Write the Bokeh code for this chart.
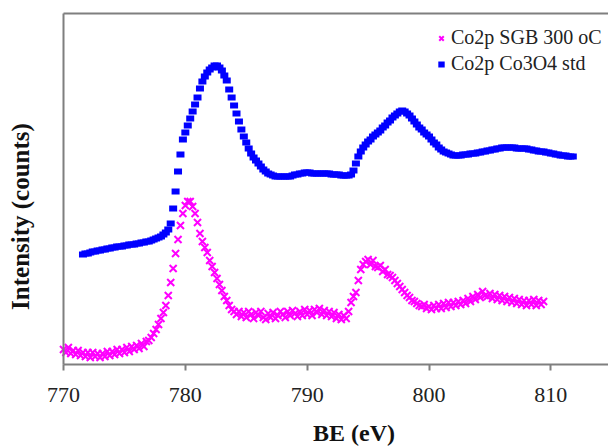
import math
import numpy as np
from bokeh.plotting import figure
from bokeh.models import (Range1d, FixedTicker, LinearAxis, Label, Legend,
                          LegendItem)
from bokeh.embed import file_html
from bokeh.resources import INLINE

# ---------------- data ----------------
# Co2p Co3O4 std (blue), sampled every 0.2 eV from 771.6 eV
blue_start = 771.6
blue_step = 0.2
blue_y = [
    110, 111,                               # 771.6-771.8
    111, 112, 113, 113, 114,                # 772
    114, 115, 115, 116, 116,                # 773
    117, 117, 118, 118, 118,                # 774
    119, 119, 120, 120, 120,                # 775
    121, 121, 122, 122, 123,                # 776
    123, 124, 125, 126, 127,                # 777
    128, 130, 132, 135, 141,                # 778
    156, 173, 193, 210, 225,                # 779
    232, 239, 246, 253, 260,                # 780
    267, 276, 283, 288, 292,                # 781
    295, 297, 299, 299, 297,                # 782
    294, 289, 284, 275, 267,                # 783
    259, 251, 243, 235, 228,                # 784
    222, 216, 211, 207, 204,                # 785
    201, 198, 195, 193, 191,                # 786
    190, 189, 188, 188, 188,                # 787
    188, 188, 188, 188, 189,                # 788
    190, 190, 191, 191, 192,                # 789
    192, 192, 191, 191, 191,                # 790
    191, 191, 191, 191, 191,                # 791
    190, 190, 190, 190, 189,                # 792
    189, 189, 189, 190, 194,                # 793
    201, 208, 213, 217, 220,                # 794
    223, 225, 228, 230, 232,                # 795
    234, 237, 239, 242, 244,                # 796
    247, 249, 251, 253, 254,                # 797
    253, 251, 249, 246, 243,                # 798
    240, 237, 235, 232, 230,                # 799
    228, 225, 222, 220, 217,                # 800
    215, 213, 212, 211, 210,                # 801
    209, 209, 209, 209, 210,                # 802
    210, 210, 211, 211, 211,                # 803
    212, 212, 213, 213, 214,                # 804
    214, 215, 215, 216, 216,                # 805
    217, 217, 217, 217, 217,                # 806
    217, 216, 216, 216, 216,                # 807
    216, 215, 215, 214, 214,                # 808
    213, 213, 213, 212, 212,                # 809
    211, 211, 210, 210, 209,                # 810
    209, 209, 208, 208, 208,                # 811
]

# Co2p SGB 300 oC (magenta), sampled every 0.2 eV from 770.0 eV
pink_start = 770.0
pink_step = 0.2
pink_y = [
    15, 12, 17, 11, 14,                     # 770
    10, 14, 9, 12, 8,                       # 771
    12, 7, 12, 8, 11,                       # 772
    7, 11, 8, 13, 9,                        # 773
    13, 10, 15, 11, 15,                     # 774
    12, 17, 13, 18, 15,                     # 775
    19, 16, 21, 18, 23,                     # 776
    24, 27, 31, 35, 40,                     # 777
    46, 52, 59, 69, 82,                     # 778
    96, 111, 125, 139, 151,                 # 779
    159, 163, 163, 158, 151,                # 780
    142, 131, 123, 117, 112,                # 781
    104, 98, 92, 86, 80,                    # 782
    74, 68, 64, 59, 55,                     # 783
    53, 50, 53, 48, 52,                     # 784
    47, 53, 50, 46, 52,                     # 785
    49, 53, 47, 45, 51,                     # 786
    47, 52, 46, 49, 53,                     # 787
    50, 47, 53, 49, 54,                     # 788
    51, 48, 53, 49, 55,                     # 789
    50, 54, 49, 55, 52,                     # 790
    56, 50, 54, 49, 53,                     # 791
    48, 52, 46, 50, 45,                     # 792
    49, 46, 53, 62, 68,                     # 793
    72, 84, 95, 100, 103,                   # 794
    105, 100, 104, 98, 97,                  # 795
    99, 93, 95, 90, 89,                     # 796
    87, 84, 81, 78, 75,                     # 797
    72, 69, 67, 64, 63,                     # 798
    61, 59, 58, 60, 56,                     # 799
    58, 55, 59, 56, 60,                     # 800
    56, 61, 57, 62, 58,                     # 801
    62, 59, 63, 60, 64,                     # 802
    61, 66, 63, 68, 65,                     # 803
    70, 67, 73, 69, 68,                     # 804
    71, 66, 70, 65, 69,                     # 805
    64, 68, 63, 67, 62,                     # 806
    66, 61, 65, 60, 64,                     # 807
    59, 64, 60, 65, 59,                     # 808
    64, 60, 63,                             # 809
]

blue_x = blue_start + blue_step * np.arange(len(blue_y))
pink_x = pink_start + pink_step * np.arange(len(pink_y))

x_ticks = [770, 780, 790, 800, 810]
series_names = ["Co2p SGB 300 oC", "Co2p Co3O4 std"]
x_title = "BE (eV)"
y_title = "Intensity (counts)"

# ---------------- figure ----------------
AXIS_GRAY = "#7f7f7f"
SERIF = "Liberation Serif"
X0, X1 = 770, 814.73      # plotted x span
Y0, Y1 = 0, 351           # plotted y span

p = figure(width=608, height=447, output_backend="svg", toolbar_location=None,
           title=None,
           x_range=Range1d(764.83, X1), y_range=Range1d(-83, 364),
           min_border=0)
p.outline_line_color = None
p.grid.visible = False
p.background_fill_color = "white"
p.border_fill_color = "white"

# x axis (inside the frame, at y = 0)
p.xaxis.fixed_location = Y0
p.xaxis.bounds = (X0, X1)
p.xaxis.ticker = FixedTicker(ticks=x_ticks)
p.xaxis.minor_tick_line_color = None
p.xaxis.major_tick_in = 0
p.xaxis.major_tick_out = 6
p.xaxis.major_tick_line_color = AXIS_GRAY
p.xaxis.major_tick_line_width = 2
p.xaxis.axis_line_color = AXIS_GRAY
p.xaxis.axis_line_width = 2
p.xaxis.major_label_text_font = SERIF
p.xaxis.major_label_text_font_size = "22px"
p.xaxis.major_label_text_color = "#222222"
p.xaxis.major_label_standoff = 17

# y axis: line only, at x = 770
p.yaxis.fixed_location = X0
p.yaxis.bounds = (Y0, Y1)
p.yaxis.ticker = FixedTicker(ticks=[])
p.yaxis.minor_tick_line_color = None
p.yaxis.major_tick_line_color = None
p.yaxis.major_label_text_font_size = "0px"
p.yaxis.axis_line_color = AXIS_GRAY
p.yaxis.axis_line_width = 2

# top border: a bare axis line
top = LinearAxis(fixed_location=Y1, bounds=(X0, X1), ticker=FixedTicker(ticks=[]),
                 major_label_text_font_size="0px", major_tick_line_color=None,
                 minor_tick_line_color=None, axis_line_color=AXIS_GRAY,
                 axis_line_width=2)
p.add_layout(top, "above")

# series
r_pink = p.scatter(pink_x, pink_y, marker="x", size=10, line_color="#ff00ff",
                   line_width=2)
r_blue = p.scatter(blue_x, blue_y, marker="dash", size=8, line_color="#0000ff",
                   line_width=6)

# axis titles
p.add_layout(Label(x=793.84, y=-68, text=x_title, text_font=SERIF,
                   text_font_size="24px", text_font_style="bold",
                   text_color="#111111", text_align="center",
                   text_baseline="middle"))
p.add_layout(Label(x=766.51, y=148, text=y_title, text_font=SERIF,
                   text_font_size="25px", text_font_style="bold",
                   text_color="#111111", text_align="center",
                   text_baseline="middle", angle=math.pi / 2))

legend = Legend(items=[LegendItem(label=series_names[0], renderers=[r_pink]),
                       LegendItem(label=series_names[1], renderers=[r_blue])],
                location=(433, 372), padding=0, spacing=3, margin=0,
                glyph_width=16, glyph_height=22, label_height=22,
                label_standoff=2, border_line_color=None,
                background_fill_alpha=0.0,
                label_text_font=SERIF, label_text_font_size="20px",
                label_text_color="#222222")
p.add_layout(legend)

open("out.html", "w").write(file_html(p, INLINE))
